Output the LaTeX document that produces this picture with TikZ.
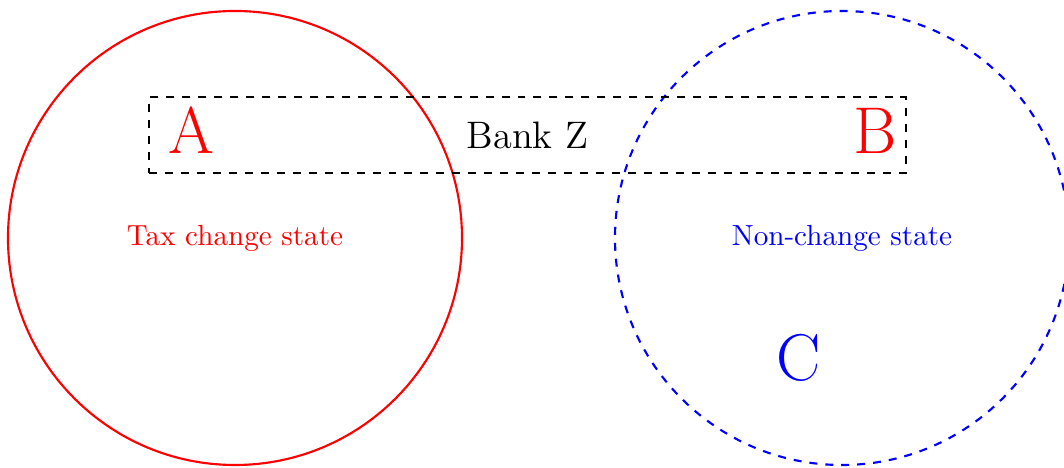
\documentclass[tikz,border=0pt]{standalone}
\begin{document}
\begin{tikzpicture}[x=0.376pt,y=-0.376pt,
  statecircle/.style={circle, thick, minimum size=6cm, inner sep=0pt},
  bankbox/.style={rectangle, draw=black, thick, dashed, minimum width=10cm, minimum height=1cm, inner sep=0pt, font=\Large},
  bigletter/.style={font=\Huge, inner sep=0pt},
  statelabel/.style={font=\fontsize{10.95}{13}\selectfont}]
\useasboundingbox (0,0) rectangle (1064,468);
\node[statecircle, draw=red, text=red, statelabel] (tax) at (235,238) {Tax change state};
\node[statecircle, draw=blue, dashed, text=blue, statelabel] (non) at (842,238) {Non-change state};
\node[bankbox] (bank) at (527.5,135) {Bank Z};
\node[bigletter, text=red] (A) at (191,130) {A};
\node[bigletter, text=red] (B) at (875,131) {B};
\node[bigletter, text=blue] (C) at (799,358) {C};
\end{tikzpicture}
\end{document}
